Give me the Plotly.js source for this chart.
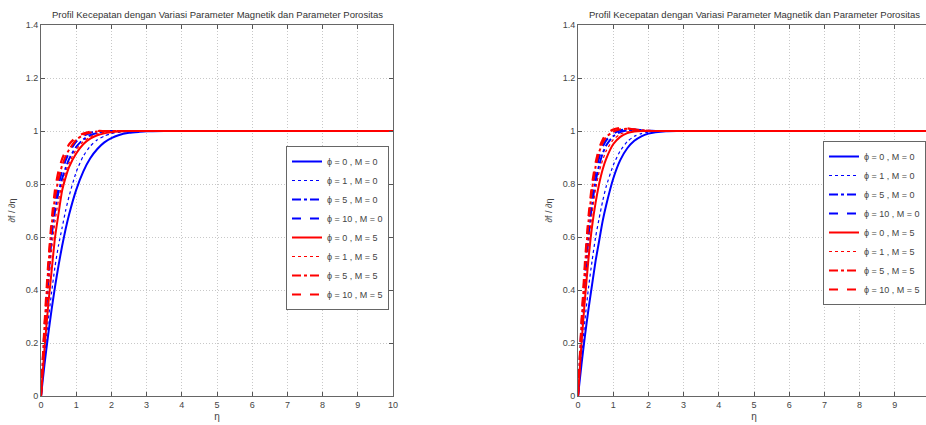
<!DOCTYPE html>
<html>
<head>
<meta charset="utf-8">
<script src="https://cdn.plot.ly/plotly-3.0.1.min.js"></script>
<style>
html,body{margin:0;padding:0;overflow:hidden;background:#fff;width:926px;height:425px;}
#chart{width:940px;height:425px;}
</style>
</head>
<body>
<div id="chart"></div>
<script>
// ---- data ----
const eta = [0,0.1,0.2,0.3,0.4,0.5,0.6,0.7,0.8,1.0,1.2,1.4,1.6,1.8,2.0,2.2,2.5,2.8,3.0,3.5,4,5,6,7,8,9,10];

const seriesLabels = ["ϕ = 0 , M = 0","ϕ = 1 , M = 0","ϕ = 5 , M = 0","ϕ = 10 , M = 0",
                      "ϕ = 0 , M = 5","ϕ = 1 , M = 5","ϕ = 5 , M = 5","ϕ = 10 , M = 5"];

// left panel
const L_phi0_M0  = [0,0.12,0.227,0.325,0.414,0.494,0.566,0.63,0.686,0.778,0.847,0.897,0.932,0.957,0.973,0.984,0.993,0.997,0.999,1,1,1,1,1,1,1,1];
const L_phi1_M0  = [0,0.15,0.28,0.39,0.49,0.57,0.635,0.70,0.755,0.845,0.905,0.943,0.967,0.981,0.99,0.995,0.998,1,1,1,1,1,1,1,1,1,1];
const L_phi5_M0  = [0,0.23,0.42,0.60,0.70,0.77,0.82,0.86,0.895,0.94,0.968,0.984,0.993,0.997,1,1,1,1,1,1,1,1,1,1,1,1,1];
const L_phi10_M0 = [0,0.25,0.45,0.62,0.73,0.80,0.85,0.89,0.92,0.96,0.982,0.993,0.998,1,1,1,1,1,1,1,1,1,1,1,1,1,1];
const L_phi0_M5  = [0,0.18,0.335,0.47,0.60,0.69,0.775,0.825,0.865,0.915,0.95,0.971,0.984,0.991,0.995,0.998,1,1,1,1,1,1,1,1,1,1,1];
const L_phi1_M5  = [0,0.21,0.39,0.55,0.66,0.74,0.80,0.845,0.88,0.93,0.96,0.978,0.989,0.995,0.998,1,1,1,1,1,1,1,1,1,1,1,1];
const L_phi5_M5  = [0,0.26,0.47,0.64,0.75,0.82,0.87,0.905,0.93,0.967,0.985,0.994,0.998,1,1,1,1,1,1,1,1,1,1,1,1,1,1];
const L_phi10_M5 = [0,0.27,0.49,0.66,0.78,0.85,0.895,0.925,0.95,0.977,0.99,0.997,1,1,1,1,1,1,1,1,1,1,1,1,1,1,1];

// right panel
const R_phi0_M0  = [0,0.12,0.23,0.33,0.42,0.51,0.585,0.66,0.72,0.82,0.89,0.935,0.963,0.98,0.99,0.995,0.999,1,1,1,1,1,1,1,1,1,1];
const R_phi1_M0  = [0,0.15,0.29,0.41,0.51,0.60,0.67,0.735,0.79,0.87,0.925,0.96,0.98,0.99,0.996,0.999,1,1,1,1,1,1,1,1,1,1,1];
const R_phi5_M0  = [0,0.24,0.44,0.60,0.72,0.81,0.87,0.915,0.945,0.98,0.996,1.002,1.003,1.002,1.001,1,1,1,1,1,1,1,1,1,1,1,1];
const R_phi10_M0 = [0,0.26,0.47,0.64,0.76,0.845,0.90,0.94,0.965,0.99,1.003,1.006,1.005,1.003,1.001,1,1,1,1,1,1,1,1,1,1,1,1];
const R_phi0_M5  = [0,0.20,0.37,0.52,0.64,0.73,0.80,0.855,0.895,0.95,0.978,0.992,0.998,1,1,1,1,1,1,1,1,1,1,1,1,1,1];
const R_phi1_M5  = [0,0.22,0.41,0.57,0.69,0.78,0.845,0.89,0.925,0.967,0.988,0.997,1,1,1,1,1,1,1,1,1,1,1,1,1,1,1];
const R_phi5_M5  = [0,0.27,0.49,0.66,0.78,0.865,0.92,0.955,0.977,0.998,1.007,1.008,1.006,1.003,1.001,1,1,1,1,1,1,1,1,1,1,1,1];
const R_phi10_M5 = [0,0.28,0.51,0.68,0.80,0.88,0.935,0.967,0.988,1.006,1.012,1.01,1.006,1.003,1.001,1,1,1,1,1,1,1,1,1,1,1,1];

const titleText = "Profil Kecepatan dengan Variasi Parameter Magnetik dan Parameter Porositas";
const xTicks = [0,1,2,3,4,5,6,7,8,9,10];
const xTicksRight = [0,1,2,3,4,5,6,7,8,9];
const yTicks = [0,0.2,0.4,0.6,0.8,1,1.2,1.4];

// ---- styles ----
const styles = [
  {color:'#0000ff', dash:'solid',   width:2},
  {color:'#0000ff', dash:'dot',     width:1.2},
  {color:'#0000ff', dash:'dashdot', width:2},
  {color:'#0000ff', dash:'dash',    width:2.2},
  {color:'#ff0000', dash:'solid',   width:2},
  {color:'#ff0000', dash:'dot',     width:1.2},
  {color:'#ff0000', dash:'dashdot', width:2},
  {color:'#ff0000', dash:'dash',    width:2.2}
];
const leftData  = [L_phi0_M0,L_phi1_M0,L_phi5_M0,L_phi10_M0,L_phi0_M5,L_phi1_M5,L_phi5_M5,L_phi10_M5];
const rightData = [R_phi0_M0,R_phi1_M0,R_phi5_M0,R_phi10_M0,R_phi0_M5,R_phi1_M5,R_phi5_M5,R_phi10_M5];

const traces = [];
leftData.forEach((ys,i)=>traces.push({
  x:eta, y:ys, type:'scatter', mode:'lines', name:seriesLabels[i],
  line:Object.assign({shape:'spline', smoothing:0.6}, styles[i]),
  xaxis:'x', yaxis:'y', legend:'legend'
}));
rightData.forEach((ys,i)=>traces.push({
  x:eta, y:ys, type:'scatter', mode:'lines', name:seriesLabels[i],
  line:Object.assign({shape:'spline', smoothing:0.6}, styles[i]),
  xaxis:'x2', yaxis:'y2', legend:'legend2'
}));

const W = 940, H = 425;
const fontFam = '"Liberation Sans Narrow","Liberation Sans",Arial,sans-serif';
function xAxis(domain, anchor, ticks){
  return {domain:domain, anchor:anchor, range:[0,10], tickvals:ticks, ticks:'inside', ticklen:4,
    tickcolor:'#555', showline:true, mirror:'ticks', linecolor:'#666', linewidth:1,
    showgrid:true, gridcolor:'#c8c8c8', griddash:'1px,2px', gridwidth:1, zeroline:false,
    tickfont:{size:9, color:'#444', family:fontFam},
    title:{text:'η', font:{size:10, color:'#444', family:fontFam}, standoff:4}};
}
function yAxis(domain, anchor){
  return {domain:domain, anchor:anchor, range:[0,1.4], tickvals:yTicks, ticks:'inside', ticklen:4,
    tickcolor:'#555', showline:true, mirror:'ticks', linecolor:'#666', linewidth:1,
    showgrid:true, gridcolor:'#c8c8c8', griddash:'1px,2px', gridwidth:1, zeroline:false,
    tickfont:{size:9, color:'#444', family:fontFam},
    title:{text:'∂f / ∂η', font:{size:9, color:'#444', family:fontFam}, standoff:8}};
}
const yDom = [1-396/H, 1-25/H];
const legendCommon = {bgcolor:'#fff', bordercolor:'#666', borderwidth:1,
  font:{size:9, color:'#444', family:fontFam}, tracegroupgap:0, itemwidth:30,
  xanchor:'left'};

const layout = {
  width:W, height:H, margin:{l:0,r:0,t:0,b:0},
  paper_bgcolor:'#fff', plot_bgcolor:'#fff', showlegend:true,
  xaxis: xAxis([41/W, 393/W], 'y', xTicks),
  yaxis: yAxis(yDom, 'x'),
  xaxis2: xAxis([578/W, 930/W], 'y2', xTicksRight),
  yaxis2: yAxis(yDom, 'x2'),
  legend: Object.assign({x:286/W, y:1-228/H, yanchor:'middle'}, legendCommon),
  legend2: Object.assign({x:823/W, y:1-141/H, yanchor:'top'}, legendCommon),
  annotations:[
    {text:titleText, xref:'paper', yref:'paper', x:217/W, y:1-15/H, xanchor:'center', yanchor:'middle',
     showarrow:false, font:{size:9.5, color:'#333', family:fontFam}},
    {text:titleText, xref:'paper', yref:'paper', x:754/W, y:1-15/H, xanchor:'center', yanchor:'middle',
     showarrow:false, font:{size:9.5, color:'#333', family:fontFam}}
  ]
};
Plotly.newPlot('chart', traces, layout, {staticPlot:true, displayModeBar:false});
</script>
</body>
</html>
